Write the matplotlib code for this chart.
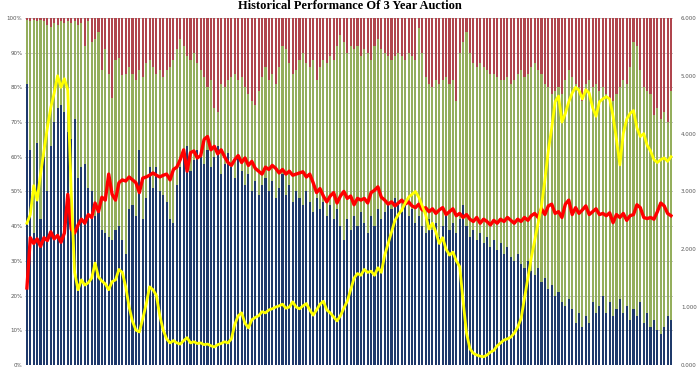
import numpy as np
import matplotlib.pyplot as plt

# share of each auction taken by the three bidder groups (percent), one bar per auction
blue_share = [81, 62, 38, 64, 42, 60, 50, 63, 70, 74,
              75, 73, 67, 65, 71, 54, 57, 58, 51, 50,
              43, 45, 39, 38, 37, 36, 39, 40, 36, 32,
              45, 46, 43, 62, 42, 48, 57, 51, 57, 50,
              49, 47, 42, 41, 52, 57, 61, 63, 56, 59,
              62, 60, 58, 62, 57, 60, 63, 55, 58, 61,
              57, 54, 60, 56, 52, 55, 50, 53, 49, 52,
              54, 50, 53, 48, 51, 55, 49, 52, 47, 50,
              48, 46, 50, 47, 44, 48, 45, 47, 43, 46,
              42, 45, 40, 36, 42, 39, 43, 40, 44, 41,
              38, 43, 40, 45, 42, 44, 47, 45, 48, 46,
              44, 47, 43, 45, 41, 43, 40, 38, 42, 39,
              41, 37, 40, 43, 39, 41, 38, 42, 46, 40,
              37, 39, 36, 38, 35, 37, 34, 36, 33, 35,
              32, 34, 31, 30, 32, 29, 28, 30, 27, 26,
              28, 24, 25, 22, 23, 20, 21, 18, 17, 19,
              16, 12, 15, 11, 14, 12, 18, 15, 17, 20,
              15, 18, 14, 16, 19, 15, 17, 13, 16, 14,
              18, 12, 15, 11, 13, 10, 9, 11, 14, 13]

# top of the green block (blue + green), the rest up to 100 is red
green_top = [99.5, 99, 99.5, 99, 99.5, 99, 98, 97.5, 98.5, 98,
             99, 98.5, 99, 98.5, 99, 98, 98.5, 92, 99, 93,
             94, 96, 85, 91, 84, 77, 88, 88.5, 83.5, 84,
             86, 84, 82, 85, 83, 87, 88, 86, 84, 85,
             83, 85, 86, 88, 91, 94, 92, 89, 88, 90,
             87, 85, 83, 80, 82, 74, 73, 81, 80, 82,
             83, 84, 82, 83, 80, 78, 76, 75, 79, 83,
             86, 82, 84, 81, 86, 92, 91, 87, 84, 85,
             88, 90, 87, 86, 88, 82, 86, 88, 87, 89,
             88, 92, 95, 93, 90, 92, 91, 92, 89, 91,
             90, 88, 92, 94, 91, 90, 89, 88, 89, 90,
             89, 88, 90, 89, 88, 97, 90, 83, 81, 80,
             82, 81, 82, 83, 81, 82, 76, 90, 93, 96,
             90, 87, 86, 87, 86, 85, 84, 84, 83, 82,
             82, 83, 81, 82, 84, 85, 83, 84, 86, 87,
             85, 84, 81, 80, 78, 79, 80, 78, 82, 85,
             83, 81, 80, 76, 81, 82, 80, 81, 79, 80,
             78, 77, 76, 78, 80, 82, 81, 86, 93, 92,
             85, 80, 79, 78, 72, 74, 71, 73, 70, 79]

# high yield (right axis)
high_yield = [2.45, 2.6, 3.1, 2.85, 3.3, 3.7, 4.1, 4.45, 4.7, 5.0,
              4.8, 4.95, 4.75, 3.0, 1.6, 1.3, 1.47, 1.38, 1.42, 1.5,
              1.76, 1.52, 1.45, 1.4, 1.3, 1.44, 1.47, 1.65, 1.6, 1.35,
              1.0, 0.75, 0.6, 0.57, 0.8, 1.05, 1.35, 1.3, 1.2, 0.85,
              0.6, 0.45, 0.38, 0.42, 0.38, 0.36, 0.42, 0.47, 0.38, 0.4,
              0.37, 0.38, 0.35, 0.36, 0.33, 0.31, 0.35, 0.37, 0.4, 0.38,
              0.45, 0.7, 0.85, 0.9, 0.72, 0.64, 0.78, 0.82, 0.85, 0.92,
              0.9, 0.95, 0.97, 1.0, 1.02, 1.05, 0.98, 1.0, 1.09, 1.0,
              0.97, 1.02, 1.06, 0.95, 0.86, 0.95, 1.05, 1.1, 0.95, 0.9,
              0.83, 0.76, 0.85, 0.98, 1.1, 1.3, 1.5, 1.58, 1.55, 1.65,
              1.6, 1.62, 1.55, 1.68, 1.6, 1.9, 2.1, 2.3, 2.5, 2.6,
              2.68, 2.8, 2.9, 2.95, 3.0, 2.9, 2.75, 2.6, 2.35, 2.45,
              2.3, 2.1, 2.2, 2.0, 1.9, 1.95, 1.8, 1.7, 1.1, 0.55,
              0.28, 0.2, 0.17, 0.15, 0.14, 0.17, 0.22, 0.25, 0.33, 0.38,
              0.43, 0.45, 0.48, 0.55, 0.65, 0.8, 1.15, 1.5, 1.85, 2.15,
              2.45, 2.75, 3.2, 3.7, 4.1, 4.55, 4.65, 4.2, 4.35, 4.55,
              4.7, 4.8, 4.75, 4.6, 4.76, 4.7, 4.45, 4.3, 4.55, 4.6,
              4.64, 4.6, 4.3, 3.9, 3.46, 4.0, 4.25, 4.35, 4.4, 4.1,
              3.95, 4.0, 3.8, 3.7, 3.55, 3.5, 3.55, 3.58, 3.52, 3.6]

# bid to cover (right axis)
bid_to_cover = [1.33, 2.2, 2.1, 2.18, 2.05, 2.2, 2.15, 2.3, 2.18, 2.24,
                2.12, 2.28, 2.95, 2.35, 2.28, 2.42, 2.52, 2.45, 2.6, 2.55,
                2.8, 2.65, 2.9, 2.85, 3.3, 2.95, 2.85, 3.15, 3.2, 3.18,
                3.25, 3.2, 3.15, 2.98, 3.23, 3.25, 3.28, 3.32, 3.28, 3.25,
                3.28, 3.3, 3.2, 3.38, 3.42, 3.55, 3.72, 3.35, 3.67, 3.7,
                3.58, 3.62, 3.9, 3.95, 3.72, 3.78, 3.65, 3.72, 3.6, 3.5,
                3.45, 3.55, 3.62, 3.5, 3.58, 3.45, 3.52, 3.4, 3.35, 3.3,
                3.42, 3.38, 3.45, 3.4, 3.32, 3.38, 3.3, 3.35, 3.28, 3.3,
                3.32, 3.34, 3.25, 3.3, 3.15, 2.98, 3.05, 2.92, 2.82, 2.92,
                2.98, 2.8, 2.92, 3.0, 2.88, 2.92, 2.77, 2.88, 2.85, 2.88,
                2.8, 2.98, 3.02, 3.08, 2.9, 2.85, 2.78, 2.82, 2.75, 2.8,
                2.85, 2.78, 2.82, 2.75, 2.72, 2.78, 2.68, 2.72, 2.65, 2.7,
                2.62, 2.68, 2.72, 2.6, 2.65, 2.7, 2.58, 2.62, 2.55, 2.6,
                2.52, 2.48, 2.55, 2.45, 2.52, 2.48, 2.42, 2.5, 2.45, 2.52,
                2.48, 2.55, 2.5, 2.45, 2.52, 2.48, 2.55, 2.5, 2.58, 2.62,
                2.55, 2.7, 2.6, 2.75, 2.78, 2.62, 2.65, 2.55, 2.78, 2.85,
                2.6, 2.72, 2.62, 2.68, 2.75, 2.6, 2.65, 2.7, 2.6, 2.62,
                2.58, 2.63, 2.46, 2.6, 2.55, 2.62, 2.5, 2.58, 2.6, 2.77,
                2.72, 2.55, 2.53, 2.55, 2.52, 2.65, 2.8, 2.75, 2.62, 2.58]

left_ticks = np.arange(0, 101, 10)
right_ticks = np.arange(0, 7, 1)

blue_share = np.array(blue_share, dtype=float)
green_top = np.array(green_top, dtype=float)
n = len(blue_share)
x = np.arange(n)

fig = plt.figure(figsize=(7, 3.75), dpi=100)
ax = fig.add_axes([0.036, 0.027, 0.925, 0.925])

ax.bar(x, blue_share, width=0.62, color='#1f3a6b', zorder=2)
ax.bar(x, green_top - blue_share, bottom=blue_share, width=0.62, color='#94ae5c', zorder=2)
ax.bar(x, 100 - green_top, bottom=green_top, width=0.62, color='#b0454d', zorder=2)

ax.set_xlim(-0.5, n - 0.5)
ax.set_ylim(0, 100)
ax.set_yticks(left_ticks)
ax.set_yticklabels([f'{t}%' for t in left_ticks], fontsize=4, color='#555555')
ax.yaxis.grid(True, color='#b0b0b0', linewidth=0.5, zorder=0)
ax.set_axisbelow(True)
ax.set_xticks([])
ax.tick_params(axis='y', length=0, pad=2)
for s in ax.spines.values():
    s.set_visible(False)

ax2 = ax.twinx()
ax2.plot(x, high_yield, color='#ffff00', linewidth=2, zorder=5)
ax2.plot(x, bid_to_cover, color='#ff0000', linewidth=2.4, zorder=4)
ax2.set_ylim(0, 6)
ax2.set_yticks(right_ticks)
ax2.set_yticklabels([f'{t:.3f}' for t in right_ticks], fontsize=4, color='#555555')
ax2.tick_params(axis='y', length=0, pad=6)
for s in ax2.spines.values():
    s.set_visible(False)

fig.text(0.5, 0.985, 'Historical Performance Of 3 Year Auction', ha='center', va='center',
         fontsize=9, fontweight='bold', family='Liberation Serif')

fig.savefig('out.png', dpi=100, facecolor='white')
